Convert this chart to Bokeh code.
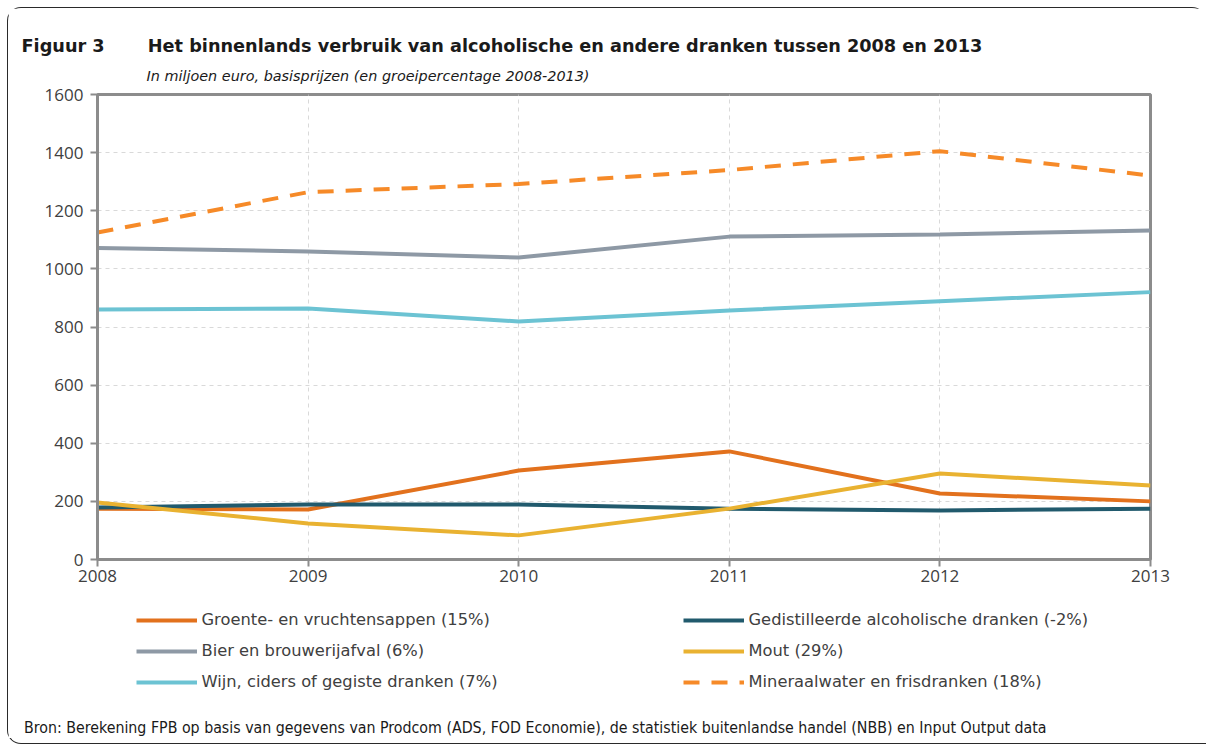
from bokeh.plotting import figure
from bokeh.models import Range1d, Legend, LegendItem, Title, FixedTicker
from bokeh.layouts import column
from bokeh.embed import file_html
from bokeh.resources import INLINE

years = [2008, 2009, 2010, 2011, 2012, 2013]
groente = [175, 172, 306, 372, 227, 200]
gedistilleerd = [179, 189, 189, 175, 169, 175]
bier = [1072, 1060, 1039, 1111, 1118, 1132]
mout = [196, 124, 83, 175, 296, 255]
wijn = [860, 864, 819, 857, 889, 920]
mineraal = [1125, 1264, 1292, 1340, 1405, 1321]

labels = {
    "groente": "Groente- en vruchtensappen (15%)",
    "gedistilleerd": "Gedistilleerde alcoholische dranken (-2%)",
    "bier": "Bier en brouwerijafval (6%)",
    "mout": "Mout (29%)",
    "wijn": "Wijn, ciders of gegiste dranken (7%)",
    "mineraal": "Mineraalwater en frisdranken (18%)",
}
y_ticks = [0, 200, 400, 600, 800, 1000, 1200, 1400, 1600]

title_fig = "Figuur 3"
title_main = "Het binnenlands verbruik van alcoholische en andere dranken tussen 2008 en 2013"
subtitle = "In miljoen euro, basisprijzen (en groeipercentage 2008-2013)"
source = ("Bron: Berekening FPB op basis van gegevens van Prodcom (ADS, FOD Economie), "
          "de statistiek buitenlandse handel (NBB) en Input Output data")

series = [
    ("groente", groente, "#E2711D", None),
    ("gedistilleerd", gedistilleerd, "#215A6D", None),
    ("bier", bier, "#8E99A5", None),
    ("mout", mout, "#E9B231", None),
    ("wijn", wijn, "#6CC3D3", None),
    ("mineraal", mineraal, "#F68A28", "16 12"),
]

W = 1198
H_CHART, H_LEG = 587, 143
FL, FT, FR, FB = 89, 86, 1142, 551  # chart frame edges in canvas px

p = figure(width=W, height=H_CHART, output_backend="svg", toolbar_location=None,
           x_range=Range1d(2008, 2013), y_range=Range1d(0, 1600),
           min_border_left=FL, min_border_top=FT,
           min_border_right=W - FR, min_border_bottom=H_CHART - FB)
p.background_fill_color = "white"
p.border_fill_color = "white"
p.outline_line_color = "#8c8c8c"
p.outline_line_width = 3

axis_col = "#8c8c8c"
for ax in (p.xaxis[0], p.yaxis[0]):
    ax.axis_line_color = axis_col
    ax.axis_line_width = 3
    ax.major_tick_line_color = axis_col
    ax.major_tick_line_width = 2
    ax.major_tick_out = 7
    ax.major_tick_in = 0
    ax.minor_tick_line_color = None
    ax.major_label_text_font = "Open Sans"
    ax.major_label_text_font_size = "17px"
    ax.major_label_text_color = "#404040"
p.xaxis.ticker = FixedTicker(ticks=years)
p.yaxis.ticker = FixedTicker(ticks=y_ticks)
p.xaxis.major_label_standoff = 3
p.yaxis.major_label_standoff = 7

for g in (p.xgrid[0], p.ygrid[0]):
    g.grid_line_color = "#d9d9d9"
    g.grid_line_dash = "4 4"
    g.grid_line_width = 1

lw = 4
draw_order = ["mineraal", "bier", "wijn", "groente", "gedistilleerd", "mout"]
by_key = {k: (vals, col, dash) for k, vals, col, dash in series}
for k in draw_order:
    vals, col, dash = by_key[k]
    kw = {"line_dash": dash} if dash else {}
    p.line(years, vals, line_color=col, line_width=lw, **kw)

p.add_layout(Title(text=subtitle, align="left", offset=146 - 97, standoff=21,
                   text_font="DejaVu Sans", text_font_size="14.4px",
                   text_font_style="italic", text_color="#1a1a1a"), "above")
p.add_layout(Title(text=title_fig + "\u00a0" * 7 + title_main, align="left",
                   offset=21 - 97, standoff=0,
                   text_font="DejaVu Sans", text_font_size="17.7px",
                   text_font_style="bold", text_color="#1a1a1a",
                   text_line_height=0.6), "above")

# legend strip (its own figure so the legend is not clipped by the chart frame)
lf = figure(width=W, height=H_LEG, output_backend="svg", toolbar_location=None,
            x_range=Range1d(2008, 2013), y_range=Range1d(0, 1600),
            x_axis_location=None, y_axis_location=None,
            min_border_left=0, min_border_right=0, min_border_top=0, min_border_bottom=0)
lf.outline_line_color = None
lf.grid.visible = False
lf.background_fill_color = "white"
lf.border_fill_color = "white"

rends = {}
for k, vals, col, dash in series:
    kw = {"line_dash": dash} if dash else {}
    rends[k] = lf.line(years, vals, line_color=col, line_width=lw, visible=False, **kw)


def make_legend(keys, x):
    return Legend(items=[LegendItem(label=labels[k], renderers=[rends[k]]) for k in keys],
                  location=(x, 21.5), orientation="vertical",
                  glyph_width=61, glyph_height=20, label_height=20,
                  label_standoff=5, spacing=11, padding=0, margin=0,
                  border_line_color=None, background_fill_alpha=0,
                  inactive_fill_alpha=0,
                  label_text_font="DejaVu Sans", label_text_font_size="16.3px",
                  label_text_color="#404040")


lf.add_layout(make_legend(["groente", "bier", "wijn"], 38.5), "center")
lf.add_layout(make_legend(["gedistilleerd", "mout", "mineraal"], 585.5), "center")
lf.add_layout(Title(text=source, align="left", offset=24 - 97.5, standoff=4,
                    text_font="DejaVu Sans Condensed, Liberation Sans Narrow",
                    text_font_size="15.8px", text_font_style="normal",
                    text_color="#1a1a1a"), "below")

layout = column(p, lf, spacing=0)
layout.styles = {"border": "1.5px solid #2a2a2a", "border-right": "none",
                 "border-radius": "14px 14px 0 14px", "margin": "7px 0 0 7px",
                 "padding-bottom": "5px", "background": "white"}

open("out.html", "w").write(file_html(layout, INLINE))
